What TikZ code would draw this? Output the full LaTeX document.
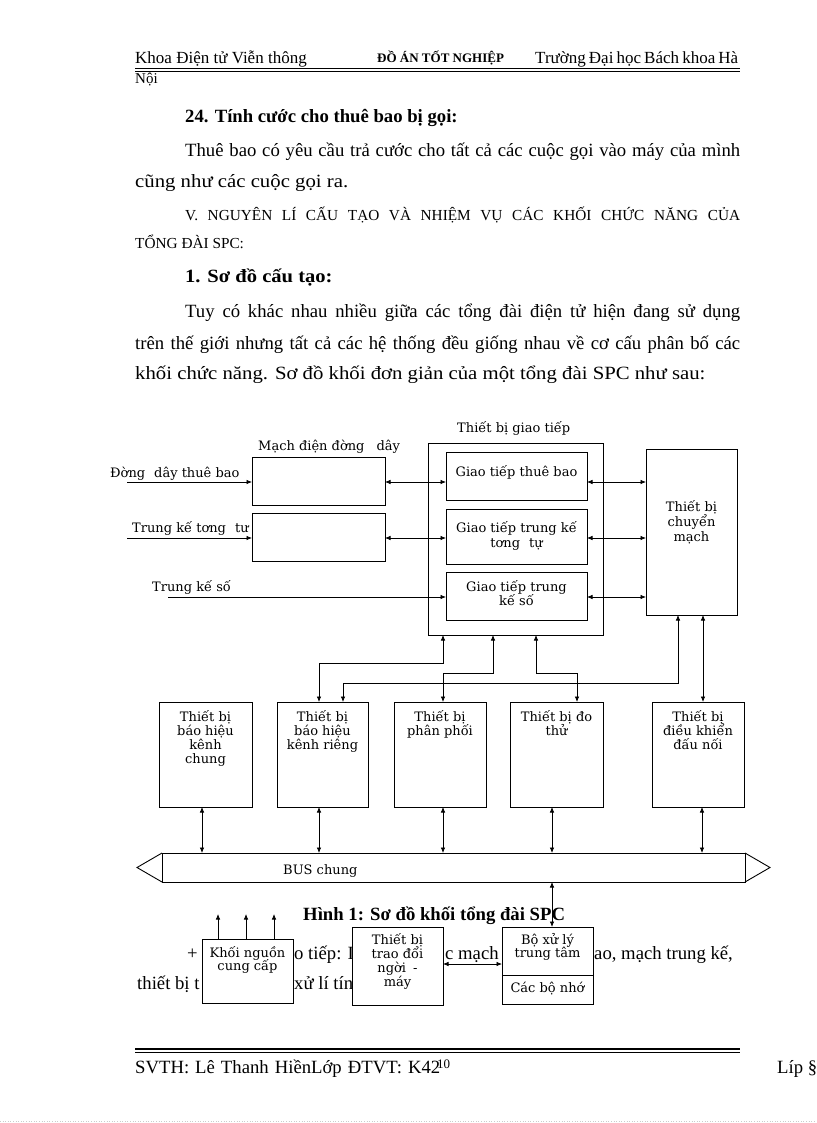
\documentclass[tikz,border=0pt]{standalone}
\usepackage{fontspec}
\setmainfont{Liberation Serif}
\newfontfamily\dgfont{DejaVu Serif}
\newfontfamily\widerm[FakeStretch=1.11]{Liberation Serif}
\newfontfamily\widebf[FakeStretch=1.1]{Liberation Serif Bold}
\usetikzlibrary{arrows.meta}
\newcommand\jline[2]{\makebox[#1][s]{#2}}
\newcommand\boxlines[5]{%
  \foreach \t [count=\i] in {#5}{%
    \node[lbl, anchor=base] (#1-\i) at (#2,{#3+#4*(\i-1)}) {\t};}}
\begin{document}
\begin{tikzpicture}[x=1pt,y=-1pt,
  bx/.style={draw=black, line width=0.9pt, fill=white, inner sep=0pt, outer sep=0pt},
  lbl/.style={font=\dgfont\fontsize{13}{15}\selectfont, inner sep=0pt, text=black},
  con/.style={draw=black, line width=0.7pt},
  ahd/.style={-{Latex[length=5.5pt,width=4.5pt]}},
  dhd/.style={{Latex[length=5.5pt,width=4.5pt]}-{Latex[length=5.5pt,width=4.5pt]}},
  bodytxt/.style={font=\fontsize{18.7}{22}\selectfont, inner sep=0pt, anchor=base west},
  widetxt/.style={font=\widerm\fontsize{18.7}{22}\selectfont, inner sep=0pt, anchor=base west},
  boldtxt/.style={font=\bfseries\fontsize{18.7}{22}\selectfont, inner sep=0pt, anchor=base west},
  hdtxt/.style={font=\fontsize{17}{20}\selectfont, inner sep=0pt, anchor=base west},
  captxt/.style={font=\fontsize{15.3}{18}\selectfont, inner sep=0pt, anchor=base west},
]
\useasboundingbox (0,0) rectangle (816,1123);
\fill[white] (0,0) rectangle (816,1123);

% ---------- header ----------
\node[hdtxt] (h1) at (135,64) {Khoa Điện tử Viễn thông};
\node[hdtxt, font=\bfseries\fontsize{13}{15}\selectfont] (h2) at (377,63) {ĐỒ ÁN TỐT NGHIỆP};
\node[hdtxt] (h3) at (535,64) {\makebox[203pt][s]{Trường Đại học Bách khoa Hà}};
\draw[line width=1.6pt] (135,68.6) -- (740,68.6);
\draw[line width=0.8pt] (135,71.2) -- (740,71.2);
\node[hdtxt, font=\fontsize{15}{17}\selectfont] (h4) at (135,84) {Nội};

% ---------- body text ----------
\node[boldtxt] (t1) at (185,123) {24. Tính cước cho thuê bao bị gọi:};
\node[bodytxt] (t2) at (185,157) {\jline{555pt}{Thuê bao có yêu cầu trả cước cho tất cả các cuộc gọi vào máy của mình}};
\node[widetxt] (t3) at (135,188) {cũng như các cuộc gọi ra.};
\node[captxt] (t4) at (185,221) {\jline{555pt}{V. NGUYÊN LÍ CẤU TẠO VÀ NHIỆM VỤ CÁC KHỐI CHỨC NĂNG CỦA}};
\node[captxt] (t5) at (135,248) {TỔNG ĐÀI SPC:};
\node[boldtxt, font=\widebf\fontsize{18.7}{22}\selectfont] (t6) at (185,282) {1. Sơ đồ cấu tạo:};
\node[bodytxt] (t7) at (185,317) {\jline{555pt}{Tuy có khác nhau nhiều giữa các tổng đài điện tử hiện đang sử dụng}};
\node[bodytxt] (t8) at (135,349) {\jline{605pt}{trên thế giới nhưng tất cả các hệ thống đều giống nhau về cơ cấu phân bố các}};
\node[widetxt] (t9) at (135,379) {khối chức năng. Sơ đồ khối đơn giản của một tổng đài SPC như sau:};

% ---------- diagram: upper part ----------
\node[lbl, anchor=base west] (lmd) at (258,450) {Mạch điện đờng\hspace{12pt}dây};
\node[lbl, anchor=base west] (ltb) at (457,432) {Thiết bị giao tiếp};
\node[lbl, anchor=base west] (lin1) at (110,477) {Đờng\hspace{9pt}dây thuê bao};
\node[lbl, anchor=base west] (lin2) at (132,532) {Trung kế tơng\hspace{9pt}tư};
\node[lbl, anchor=base west] (lin3) at (152,591) {Trung kế số};

\node[bx, minimum width=133pt, minimum height=48pt] (mb1) at (318.5,481) {};
\node[bx, minimum width=133pt, minimum height=48pt] (mb2) at (318.5,537) {};
\node[bx, minimum width=175pt, minimum height=192pt] (outer) at (515.5,539) {};
\node[bx, minimum width=141pt, minimum height=48pt] (ib1) at (516.5,476) {};
\node[bx, minimum width=141pt, minimum height=55pt] (ib2) at (516.5,536.5) {};
\node[bx, minimum width=141pt, minimum height=48pt] (ib3) at (516.5,596) {};
\node[bx, minimum width=91pt, minimum height=166pt] (cm) at (691.5,532) {};

\boxlines{ib1}{516.5}{476}{15}{Giao tiếp thuê bao}
\boxlines{ib2}{516.5}{532}{15}{Giao tiếp trung kế, tơng\hspace{9pt}tự}
\boxlines{ib3}{516.5}{591}{14.5}{Giao tiếp trung, kế số}
\boxlines{cm}{691.5}{511}{15}{Thiết bị, chuyển, mạch}

\coordinate (in1) at (127,482);
\coordinate (in2) at (127,538);
\coordinate (in3) at (168,597);
\draw[con,ahd] (in1) -- (in1 -| mb1.west);
\draw[con,ahd] (in2) -- (in2 -| mb2.west);
\draw[con,ahd] (in3) -- (in3 -| ib3.west);
\draw[con,dhd] (in1 -| mb1.east) -- (in1 -| ib1.west);
\draw[con,dhd] (in2 -| mb2.east) -- (in2 -| ib2.west);
\draw[con,dhd] (in1 -| ib1.east) -- (in1 -| cm.west);
\draw[con,dhd] (in2 -| ib2.east) -- (in2 -| cm.west);
\draw[con,dhd] (in3 -| ib3.east) -- (in3 -| cm.west);

% ---------- diagram: middle row ----------
\node[bx, minimum width=93pt, minimum height=105pt] (ba) at (205.5,754.5) {};
\node[bx, minimum width=91pt, minimum height=105pt] (bb) at (322.5,754.5) {};
\node[bx, minimum width=92pt, minimum height=105pt] (bc) at (440,754.5) {};
\node[bx, minimum width=93pt, minimum height=105pt] (bd) at (556.5,754.5) {};
\node[bx, minimum width=92pt, minimum height=105pt] (be) at (698,754.5) {};

\boxlines{ba}{205.5}{721}{14.3}{Thiết bị, báo hiệu, kênh, chung}
\boxlines{bb}{322.5}{721}{14.3}{Thiết bị, báo hiệu, kênh riêng}
\boxlines{bc}{440}{721}{14.3}{Thiết bị, phân phối}
\boxlines{bd}{556.5}{721}{14.3}{Thiết bị đo, thử}
\boxlines{be}{698}{721}{14.3}{Thiết bị, điều khiển, đấu nối}

\coordinate (cA1) at (443,663); \coordinate (cA2) at (319,663);
\draw[con,dhd] (cA1 |- outer.south) -- (cA1) -- (cA2) -- (cA2 |- bb.north);
\coordinate (cB1) at (493,673); \coordinate (cB2) at (443,673);
\draw[con,dhd] (cB1 |- outer.south) -- (cB1) -- (cB2) -- (cB2 |- bc.north);
\coordinate (cC1) at (343,683); \coordinate (cC2) at (678,683);
\draw[con,dhd] (cC1 |- bb.north) -- (cC1) -- (cC2) -- (cC2 |- cm.south);
\coordinate (cD1) at (536,673); \coordinate (cD2) at (577,673);
\draw[con,dhd] (cD1 |- outer.south) -- (cD1) -- (cD2) -- (cD2 |- bd.north);
\coordinate (cE) at (703,660);
\draw[con,dhd] (cE |- cm.south) -- (cE |- be.north);

% ---------- bus ----------
\node[bx, minimum width=583pt, minimum height=29pt] (bus) at (453.5,867.5) {};
\draw[line width=0.9pt] (bus.north west) -- ([xshift=-25pt]bus.west) -- (bus.south west);
\draw[line width=0.9pt] (bus.north east) -- ([xshift=25pt]bus.east) -- (bus.south east);
\node[lbl, anchor=base west] (bust) at (283,874) {BUS chung};

\foreach \n/\xx in {ba/202, bb/319, bc/443, bd/552, be/702}{%
  \coordinate (k\n) at (\xx,830);
  \draw[con,dhd] (k\n |- \n.south) -- (k\n |- bus.north);}

% ---------- caption and text behind bottom boxes ----------
\node[boldtxt] (cap) at (303,920) {Hình 1: Sơ đồ khối tổng đài SPC};
\node[bodytxt] (p1) at (187,959) {+};
\node[bodytxt] (p2) at (294,959) {o tiếp: I};
\node[bodytxt] (p3) at (445,959) {c mạch};
\node[bodytxt] (p4) at (594,959) {ao, mạch trung kế,};
\node[bodytxt] (p5) at (137,989) {thiết bị t};
\node[bodytxt] (p6) at (294,989) {xử lí tín};

% ---------- bottom boxes ----------
\node[bx, minimum width=91pt, minimum height=64pt] (pwr) at (247.5,971) {};
\node[bx, minimum width=91pt, minimum height=78pt] (hmi) at (397.5,966) {};
\node[bx, minimum width=91pt, minimum height=48pt] (cpu) at (547.5,951) {};
\node[bx, minimum width=91pt, minimum height=29pt] (mem) at (547.5,989.5) {};

\boxlines{pwr}{247.5}{957}{13.5}{Khối nguồn, cung cấp}
\boxlines{hmi}{397.5}{944}{14}{Thiết bị, trao đổi, ngời\hspace{7pt}-, máy}
\boxlines{cpu}{547.5}{944}{13}{Bộ xử lý, trung tâm}
\boxlines{mem}{547.5}{992}{13}{Các bộ nhớ}

\coordinate (kc) at (552,900);
\draw[con,dhd] (kc |- bus.south) -- (kc |- cpu.north);
\coordinate (kh) at (470,964);
\draw[con,dhd] (kh -| hmi.east) -- (kh -| cpu.west);
\foreach \xx in {218,246,274}{%
  \coordinate (pu\xx) at (\xx,914);
  \draw[con,ahd] (pu\xx |- pwr.north) -- (pu\xx);}

% ---------- footer ----------
\draw[line width=1.3pt] (135,1049) -- (740,1049);
\draw[line width=1.3pt] (135,1052.5) -- (740,1052.5);
\node[bodytxt] (f1) at (135,1073) {\makebox[305pt][s]{SVTH: Lê Thanh HiềnLớp ĐTVT: K42}};
\node[bodytxt, font=\fontsize{13}{15}\selectfont] (f2) at (437,1068) {10};
\node[bodytxt] (f3) at (777,1073) {Líp §};
\draw[gray!40, dotted, line width=0.6pt] (0,1121) -- (816,1121);
\end{tikzpicture}
\end{document}
